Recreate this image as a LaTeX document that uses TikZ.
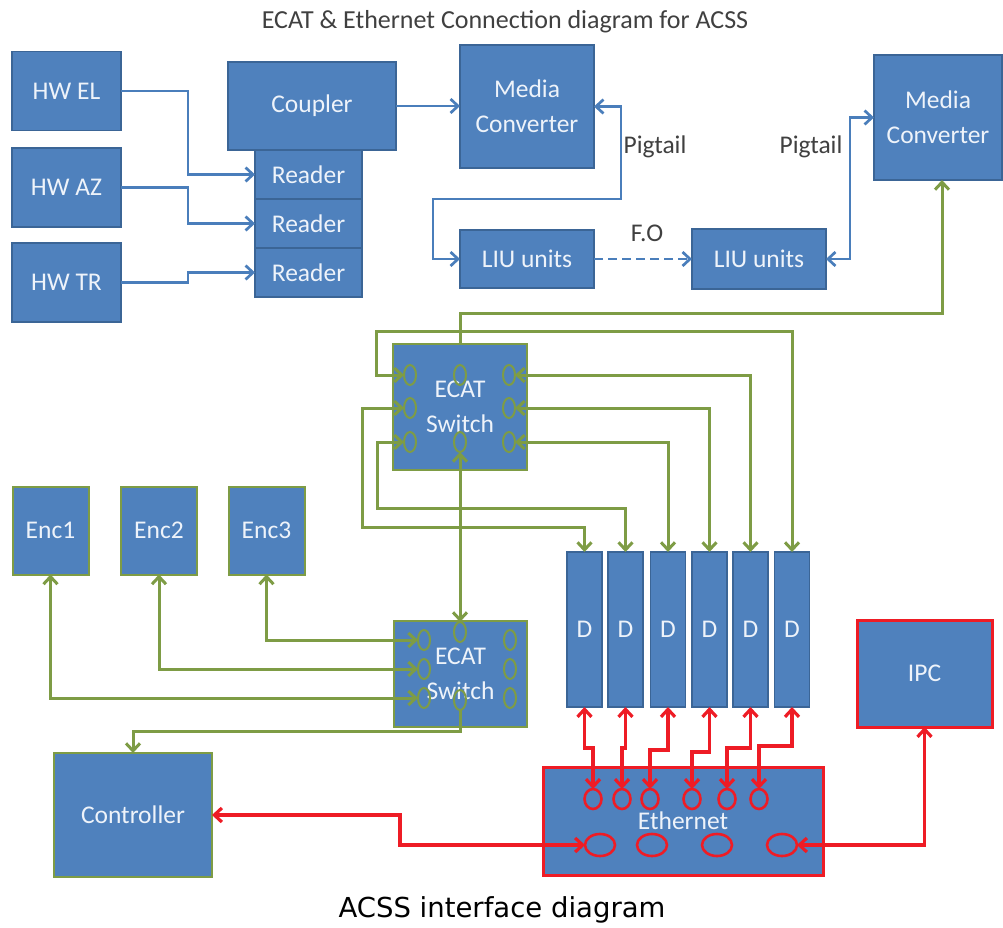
\documentclass[tikz,border=0pt]{standalone}
\usepackage{fontspec}
\setmainfont{Carlito}
\newfontfamily\capfont{DejaVu Sans}
\usetikzlibrary{arrows.meta,shapes.geometric}
\definecolor{boxfill}{HTML}{4F81BD}
\definecolor{boxedge}{HTML}{3B6596}
\definecolor{bluel}{HTML}{4A7EBB}
\definecolor{greenl}{HTML}{7E9C45}
\definecolor{redl}{HTML}{EE1C25}
\definecolor{titlegray}{HTML}{404040}
\definecolor{boxtext}{HTML}{EEF3FA}
\begin{document}
\begin{tikzpicture}[x=1pt,y=-1pt,
  every node/.style={inner sep=0pt, outer sep=0pt},
  bx/.style={draw=boxedge, line width=1.5pt, fill=boxfill, text=boxtext, font=\fontsize{25.5}{35}\selectfont, align=center},
  gbx/.style={bx, draw=greenl, line width=2pt},
  rbx/.style={bx, draw=redl, line width=3pt},
  gport/.style={ellipse, draw=greenl, line width=2pt, minimum width=12pt, minimum height=20pt},
  rport/.style={ellipse, draw=redl, line width=2.6pt, minimum width=17pt, minimum height=20pt},
  rbig/.style={ellipse, draw=redl, line width=2.6pt, minimum width=30pt, minimum height=22pt},
  lbl/.style={text=titlegray, font=\fontsize{25.5}{28}\selectfont},
  bline/.style={draw=bluel, line width=2.7pt},
  gline/.style={draw=greenl, line width=3pt},
  rline/.style={draw=redl, line width=3.2pt},
  >={Straight Barb[length=7.5pt,width=14pt]}
]
\useasboundingbox (0,0) rectangle (1003,928);
\fill[white] (0,0) rectangle (1003,928);

% title and caption
\node[text=titlegray, font=\fontsize{26}{28}\selectfont] (title) at (505,22) {ECAT \& Ethernet Connection diagram for ACSS};
\node[text=black, font=\capfont\fontsize{27.5}{30}\selectfont] (caption) at (502,910) {ACSS interface diagram};

% top blue boxes
\node[bx, minimum width=109pt, minimum height=79pt] (hwel) at (66.5,91) {HW EL};
\node[bx, minimum width=109pt, minimum height=79pt] (hwaz) at (66.5,187.5) {HW AZ};
\node[bx, minimum width=109pt, minimum height=79pt] (hwtr) at (66.5,282.5) {HW TR};
\node[bx, minimum width=168pt, minimum height=88pt] (coupler) at (312,106) {Coupler};
\node[bx, minimum width=107pt, minimum height=49pt] (r1) at (308.5,174.5) {Reader};
\node[bx, minimum width=107pt, minimum height=49pt] (r2) at (308.5,223.5) {Reader};
\node[bx, minimum width=107pt, minimum height=49pt] (r3) at (308.5,272.5) {Reader};
\node[bx, minimum width=134pt, minimum height=123pt] (mc1) at (527,106.5) {Media\\Converter};
\node[bx, minimum width=134pt, minimum height=58pt] (liu1) at (527,259) {LIU units};
\node[bx, minimum width=134pt, minimum height=60pt] (liu2) at (759,259) {LIU units};
\node[bx, minimum width=128pt, minimum height=125pt] (mc2) at (938,117.5) {Media\\Converter};

\node[lbl] (pig1) at (655,147) {Pigtail};
\node[lbl] (pig2) at (811,147) {Pigtail};
\node[lbl] (fo) at (647,233) {F.O};

% switches
\node[gbx, minimum width=134pt, minimum height=126pt] (s1) at (460,407) {ECAT\\Switch};
\node[gbx, minimum width=133pt, minimum height=106pt] (s2) at (460.5,674) {ECAT\\Switch};
\node[gport] (s1l1) at (410,375) {};
\node[gport] (s1l2) at (410,408) {};
\node[gport] (s1l3) at (410,442) {};
\node[gport] (s1m1) at (460,375) {};
\node[gport] (s1m2) at (460,442) {};
\node[gport] (s1r1) at (509,375) {};
\node[gport] (s1r2) at (509,408) {};
\node[gport] (s1r3) at (509,442) {};
\node[gport] (s2l1) at (424,640) {};
\node[gport] (s2l2) at (424,669) {};
\node[gport] (s2l3) at (424,698) {};
\node[gport] (s2m1) at (460,632) {};
\node[gport] (s2m2) at (460,700) {};
\node[gport] (s2r1) at (510,640) {};
\node[gport] (s2r2) at (510,669) {};
\node[gport] (s2r3) at (510,698) {};

% encoders and controller
\node[gbx, minimum width=76pt, minimum height=88pt] (enc1) at (50.5,530.5) {Enc1};
\node[gbx, minimum width=76pt, minimum height=88pt] (enc2) at (159,530.5) {Enc2};
\node[gbx, minimum width=76pt, minimum height=88pt] (enc3) at (266.5,530.5) {Enc3};
\node[gbx, minimum width=158pt, minimum height=124pt] (ctrl) at (133,815) {Controller};

% drives
\node[bx, minimum width=35pt, minimum height=155pt] (d1) at (584.5,629.5) {D};
\node[bx, minimum width=35pt, minimum height=155pt] (d2) at (625.5,629.5) {D};
\node[bx, minimum width=35pt, minimum height=155pt] (d3) at (668,629.5) {D};
\node[bx, minimum width=35pt, minimum height=155pt] (d4) at (709.5,629.5) {D};
\node[bx, minimum width=35pt, minimum height=155pt] (d5) at (750.5,629.5) {D};
\node[bx, minimum width=35pt, minimum height=155pt] (d6) at (792,629.5) {D};

% IPC and Ethernet
\node[rbx, minimum width=135pt, minimum height=107pt] (ipc) at (924.5,673.5) {IPC};
\node[rbx, minimum width=280pt, minimum height=108pt] (eth) at (683,821) {Ethernet};
\node[rport] (e1) at (593,799) {};
\node[rport] (e2) at (622,799) {};
\node[rport] (e3) at (650,799) {};
\node[rport] (e4) at (692,799) {};
\node[rport] (e5) at (727,799) {};
\node[rport] (e6) at (759,799) {};
\node[rbig] (el1) at (600,845) {};
\node[rbig] (el2) at (652,845) {};
\node[rbig] (el3) at (717,845) {};
\node[rbig] (el4) at (782,845) {};

% blue connectors
\draw[bline,->] (hwel.east) -| (188,174.5) -- (r1.west);
\draw[bline,->] (hwaz.east) -| (188,223.5) -- (r2.west);
\draw[bline,->] (hwtr.east) -| (188,272.5) -- (r3.west);
\draw[bline,->] (coupler.east) -- (mc1.west |- coupler.east);
\draw[bline,<->] (mc1.east) -| (621,199) -| (433,259) -- (liu1.west);
\draw[bline,dash pattern=on 9pt off 5pt,->] (liu1.east) -- (liu2.west);
\draw[bline,<->] (liu2.east) -| (850,117.5) -- (mc2.west);

% green connectors
\draw[gline,->] (s1.north) |- (700,313) -| ([xshift=4pt]mc2.south);
\draw[gline,<->] (s1l1.west) -| (376,331) -| (d6.north);
\draw[gline,<->] (s1l2.west) -| (362,527) -| (d1.north);
\draw[gline,<->] (s1l3.west) -| (377,508) -| (d2.north);
\draw[gline,<->] (s1r1.east) -| (d5.north);
\draw[gline,<->] (s1r2.east) -| (d4.north);
\draw[gline,<->] (s1r3.east) -| (d3.north);
\draw[gline,<->] (s1m2.south) -- (s2m1.north);
\draw[gline,<->] (s2l1.west) -| (enc3.south);
\draw[gline,<->] (s2l2.west) -| (enc2.south);
\draw[gline,<->] (s2l3.west) -| (enc1.south);
\draw[gline,->] (s2m2.south) |- (300,731) -| (ctrl.north);

% red connectors
\draw[rline,<->] (d1.south) -- (584.5,748) -| (e1.north);
\draw[rline,<->] (d2.south) -- (625.5,748) -| (e2.north);
\draw[rline,<->] (d3.south) -- (668,750) -| (e3.north);
\draw[rline,<->] (d4.south) -- (709.5,752) -| (e4.north);
\draw[rline,<->] (d5.south) -- (750.5,748) -| (e5.north);
\draw[rline,<->] (d6.south) -- (792,746) -| (e6.north);
\draw[rline,<->] (ctrl.east) -| (400,845) -- (el1.west);
\draw[rline,<->] (el4.east) -| (ipc.south);
\end{tikzpicture}
\end{document}
